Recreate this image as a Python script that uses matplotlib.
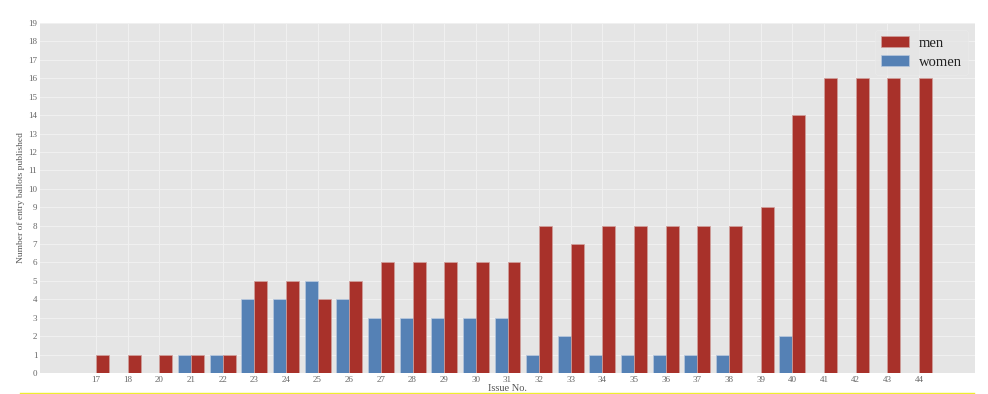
import matplotlib
matplotlib.use("Agg")
import matplotlib.pyplot as plt
import numpy as np
from matplotlib.lines import Line2D

issues = ["17", "18", "20", "21", "22", "23", "24", "25", "26", "27", "28", "29", "30",
          "31", "32", "33", "34", "35", "36", "37", "38", "39", "40", "41", "42", "43", "44"]
women = [0, 0, 0, 1, 1, 4, 4, 5, 4, 3, 3, 3, 3, 3, 1, 2, 1, 1, 1, 1, 1, 0, 2, 0, 0, 0, 0]
men = [1, 1, 1, 1, 1, 5, 5, 4, 5, 6, 6, 6, 6, 6, 8, 7, 8, 8, 8, 8, 8, 9, 14, 16, 16, 16, 16]
yticks = list(range(0, 20))

plt.style.use("ggplot")
plt.rcParams["font.family"] = ["Liberation Serif", "DejaVu Serif"]

fig = plt.figure(figsize=(9.88, 3.94), dpi=100)
ax = fig.add_axes([40/988, 1-373/394, (975-40)/988, (373-23)/394])
ax.set_facecolor("#E5E5E5")

x = np.arange(len(issues))
w = 0.41
red = "#A8312A"
blue = "#5581B5"
ax.bar(x - w/2, women, w, color=blue, edgecolor="#b8c8de", linewidth=0.5, label="women", zorder=2)
ax.bar(x + w/2, men, w, color=red, edgecolor="#d0a09c", linewidth=0.5, label="men", zorder=2)

ax.set_xlim(-1.77, len(issues) - 1 + 1.77)
ax.set_ylim(0, 19)
ax.set_yticks(yticks)
ax.set_xticks(x)
ax.set_xticklabels(issues)
ax.tick_params(axis="both", labelsize=6.5, colors="#666666", length=0, pad=2)
ax.grid(True, color="#F0F0F0", linewidth=0.8, zorder=0)
ax.set_axisbelow(True)
for s in ax.spines.values():
    s.set_visible(False)

ax.set_ylabel("Number of entry ballots published", fontsize=6.8, color="#555555")
ax.yaxis.set_label_coords(-15/935, 0.5)
ax.set_xlabel("Issue No.", fontsize=7.5, color="#555555", labelpad=0)

handles, labels = ax.get_legend_handles_labels()
leg = ax.legend([handles[1], handles[0]], [labels[1], labels[0]], loc="upper right",
                fontsize=10.5, frameon=True, facecolor="#E6E6E6", edgecolor="#EBEBEB",
                handlelength=1.9, handleheight=0.75, handletextpad=0.7,
                borderaxespad=0.5, labelspacing=0.4)
for t in leg.get_texts():
    t.set_color("#222222")

fig.add_artist(Line2D([20/988, 974/988], [1-393/394, 1-393/394], color="#EEEE30", linewidth=1.0))

fig.savefig("out.png", dpi=100, facecolor="white")
